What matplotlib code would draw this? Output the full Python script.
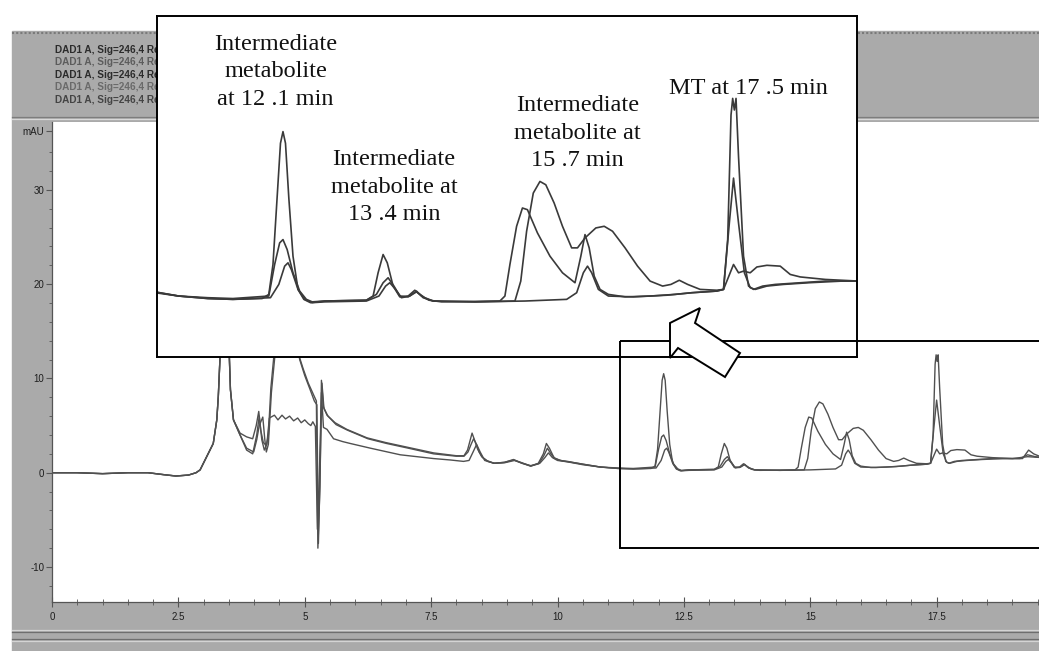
import matplotlib.pyplot as plt
from matplotlib import patches
import numpy as np

plt.rcParams['font.family'] = ['Liberation Sans', 'DejaVu Sans']

FIG_W, FIG_H = 1039, 651  # 出力サイズ (px)

# --- 溶媒フロント (全トレース共通) : (min, mAU) ---
FRONT = [(0.0, 0.0), (0.5, 0.0), (1.0, -0.1), (1.5, 0.0), (1.9, 0.0), (2.2, -0.2),
         (2.45, -0.35), (2.7, -0.25), (2.85, 0.0), (2.93, 0.3), (3.06, 1.7), (3.19, 3.1),
         (3.26, 5.6), (3.29, 8.1), (3.33, 13.0), (3.38, 24.0), (3.42, 30.0), (3.47, 24.0),
         (3.51, 12.0), (3.53, 8.8), (3.59, 5.6)]

TRACE_A = [(3.72, 4.2), (3.85, 3.8), (3.97, 3.6), (4.04, 5.0), (4.09, 6.5), (4.13, 4.5),
           (4.18, 3.2), (4.24, 2.9), (4.28, 4.0), (4.33, 9.0), (4.40, 13.0), (4.50, 17.0),
           (4.65, 19.0), (4.80, 15.0), (4.88, 12.5), (4.97, 11.0), (5.07, 9.5), (5.17, 8.3),
           (5.23, 7.6), (5.26, -8.0), (5.30, -1.5), (5.33, 9.8), (5.37, 7.0), (5.44, 6.1),
           (5.60, 5.3), (5.83, 4.6), (6.23, 3.7), (6.60, 3.2), (7.03, 2.7), (7.55, 2.1),
           (8.00, 1.8), (8.15, 1.8), (8.22, 2.4), (8.27, 3.4), (8.31, 4.2), (8.35, 3.6),
           (8.42, 2.5), (8.50, 1.7), (8.60, 1.3), (8.74, 1.0), (8.95, 1.1), (9.13, 1.35),
           (9.30, 1.05), (9.47, 0.7), (9.62, 1.0), (9.72, 2.0), (9.78, 3.1), (9.84, 2.6),
           (9.93, 1.6), (10.05, 1.3), (10.20, 1.2), (10.50, 0.9), (10.85, 0.6), (11.20, 0.45),
           (11.50, 0.4), (11.85, 0.45), (11.93, 0.7), (11.98, 2.5), (12.03, 6.5), (12.07, 9.8),
           (12.10, 10.5), (12.13, 9.8), (12.17, 6.5), (12.22, 3.0), (12.28, 1.0), (12.35, 0.4),
           (12.43, 0.2), (12.60, 0.3), (13.10, 0.35), (13.18, 0.6), (13.24, 2.0), (13.30, 3.1),
           (13.35, 2.6), (13.42, 1.2), (13.50, 0.55), (13.60, 0.6), (13.68, 0.95), (13.76, 0.6),
           (13.85, 0.35), (14.00, 0.25), (14.40, 0.28), (14.70, 0.3), (14.76, 0.6), (14.82, 2.5),
           (14.90, 4.8), (14.97, 5.9), (15.03, 5.8), (15.15, 4.4), (15.30, 3.0), (15.45, 2.0),
           (15.60, 1.4), (15.67, 3.0), (15.72, 4.3), (15.77, 3.5), (15.83, 1.8), (15.90, 1.0),
           (16.00, 0.7), (16.20, 0.55), (16.50, 0.6), (16.80, 0.7), (17.00, 0.8), (17.30, 0.9),
           (17.38, 1.0), (17.43, 4.0), (17.47, 11.5), (17.49, 12.5), (17.51, 11.8), (17.53, 12.5),
           (17.56, 9.0), (17.62, 3.0), (17.68, 1.2), (17.74, 1.0), (17.85, 1.2), (18.00, 1.3),
           (18.30, 1.4), (18.60, 1.5), (19.00, 1.5), (19.15, 1.5), (19.30, 1.9), (19.45, 1.7),
           (19.60, 1.6), (20.0, 1.6)]

TRACE_B = [(3.72, 4.0), (3.85, 2.6), (3.99, 2.2), (4.05, 3.5), (4.10, 5.0), (4.17, 5.9),
           (4.21, 3.5), (4.24, 2.2), (4.28, 3.0), (4.34, 8.5), (4.42, 13.0), (4.55, 17.5),
           (4.70, 18.0), (4.82, 14.5), (4.90, 12.0), (5.00, 10.3), (5.10, 8.9), (5.19, 7.6),
           (5.24, 7.2), (5.27, -7.5), (5.30, -1.0), (5.34, 9.5), (5.38, 6.8), (5.46, 6.0),
           (5.62, 5.1), (5.85, 4.5), (6.25, 3.6), (6.62, 3.1), (7.05, 2.6), (7.55, 2.0),
           (8.00, 1.75), (8.15, 1.75), (8.23, 2.2), (8.29, 3.0), (8.34, 3.6), (8.39, 3.1),
           (8.45, 2.2), (8.52, 1.6), (8.62, 1.2), (8.76, 1.0), (8.95, 1.05), (9.15, 1.3),
           (9.30, 1.0), (9.47, 0.7), (9.63, 0.95), (9.73, 1.8), (9.80, 2.6), (9.87, 2.0),
           (9.95, 1.5), (10.10, 1.25), (10.40, 1.0), (10.85, 0.6), (11.20, 0.5), (11.50, 0.45),
           (11.93, 0.6), (12.00, 2.5), (12.06, 3.8), (12.10, 4.0), (12.15, 3.4), (12.22, 2.0),
           (12.30, 0.9), (12.38, 0.4), (12.45, 0.25), (12.60, 0.3), (13.10, 0.35), (13.22, 0.7),
           (13.30, 1.4), (13.36, 1.7), (13.43, 1.2), (13.50, 0.6), (13.60, 0.55), (13.70, 0.85),
           (13.80, 0.5), (13.90, 0.3), (14.40, 0.25), (14.88, 0.3), (14.95, 1.5), (15.02, 4.5),
           (15.10, 6.8), (15.18, 7.5), (15.25, 7.3), (15.35, 6.2), (15.45, 4.8), (15.56, 3.5),
           (15.63, 3.5), (15.72, 4.1), (15.85, 4.7), (15.95, 4.8), (16.05, 4.5), (16.20, 3.5),
           (16.35, 2.4), (16.50, 1.5), (16.65, 1.2), (16.75, 1.3), (16.85, 1.55), (16.95, 1.3),
           (17.10, 1.0), (17.30, 0.95), (17.38, 1.0), (17.45, 5.0), (17.50, 7.7), (17.56, 5.0),
           (17.63, 2.0), (17.70, 1.1), (17.76, 1.0), (17.90, 1.2), (18.10, 1.3), (18.40, 1.4),
           (18.80, 1.5), (19.20, 1.5), (19.32, 2.4), (19.42, 2.0), (19.60, 1.6), (20.0, 1.6)]

TRACE_C = [(3.72, 4.0), (3.85, 2.4), (3.97, 2.0), (4.05, 4.0), (4.10, 6.0), (4.15, 3.5),
           (4.20, 2.4), (4.25, 3.0), (4.30, 5.8), (4.40, 6.1), (4.47, 5.6), (4.55, 6.1),
           (4.62, 5.7), (4.70, 6.0), (4.78, 5.5), (4.86, 5.8), (4.93, 5.3), (5.00, 5.6),
           (5.07, 5.2), (5.12, 5.0), (5.16, 5.4), (5.21, 4.9), (5.25, -6.0), (5.29, 0.0),
           (5.33, 8.5), (5.37, 4.8), (5.44, 4.6), (5.57, 3.6), (5.75, 3.3), (5.90, 3.1),
           (6.30, 2.6), (6.89, 1.9), (7.55, 1.5), (7.88, 1.35), (8.14, 1.2), (8.25, 1.3),
           (8.33, 2.2), (8.40, 3.0), (8.47, 2.2), (8.56, 1.3), (8.74, 1.0), (8.95, 1.1),
           (9.13, 1.4), (9.30, 1.0), (9.47, 0.75), (9.65, 1.0), (9.75, 1.6), (9.82, 2.1),
           (9.90, 1.6), (10.00, 1.3), (10.20, 1.15), (10.50, 0.85), (10.85, 0.6), (11.20, 0.45),
           (11.50, 0.4), (11.95, 0.5), (12.05, 1.3), (12.12, 2.4), (12.16, 2.6), (12.20, 2.2),
           (12.28, 1.0), (12.36, 0.4), (12.45, 0.2), (12.60, 0.25), (13.10, 0.3), (13.25, 0.6),
           (13.33, 1.2), (13.38, 1.4), (13.45, 1.0), (13.52, 0.5), (13.62, 0.6), (13.70, 0.9),
           (13.78, 0.5), (13.90, 0.3), (14.40, 0.25), (15.00, 0.3), (15.50, 0.4), (15.62, 0.8),
           (15.70, 2.0), (15.75, 2.4), (15.80, 2.0), (15.88, 1.0), (16.00, 0.6), (16.30, 0.55),
           (16.70, 0.65), (17.00, 0.8), (17.30, 0.9), (17.38, 1.0), (17.46, 2.0), (17.50, 2.5),
           (17.56, 2.0), (17.62, 2.1), (17.70, 2.0), (17.78, 2.35), (17.90, 2.45), (18.06, 2.4),
           (18.18, 1.9), (18.30, 1.75), (18.60, 1.6), (19.00, 1.5), (19.30, 1.7), (19.60, 1.6),
           (20.0, 1.6)]

X_TICKS = [0, 2.5, 5, 7.5, 10, 12.5, 15, 17.5, 20]
X_LABELS = ['0', '2.5', '5', '7.5', '10', '12.5', '15', '17.5', '20']
Y_TICKS = [-10, 0, 10, 20, 30]
Y_LABELS = ['-10', '0', '10', '20', '30']
Y_UNIT = 'mAU'

LEGEND_LINES = ['DAD1 A, Sig=246,4 Ref=off'] * 5
LEGEND_COLORS = ['#2b2b2b', '#5c5c5c', '#2b2b2b', '#6a6a6a', '#444444']

ANNOTATIONS = ['Intermediate\nmetabolite\nat 12 .1 min',
               'Intermediate\nmetabolite at\n13 .4 min',
               'Intermediate\nmetabolite at\n15 .7 min',
               'MT at 17 .5 min']

# 白抜き矢印の輪郭 (px)
ARROW_OUTLINE = [(670, 323), (700, 308), (695, 323), (740, 353), (725, 377),
                 (678, 348), (670, 358)]


def px_rect(x0, y0, x1, y1):
    """ピクセル座標 -> figure 座標"""
    return [x0 / FIG_W, 1 - y1 / FIG_H, (x1 - x0) / FIG_W, (y1 - y0) / FIG_H]


def trace(points):
    t, v = np.array(FRONT + points).T
    return t, v


def draw():
    fig = plt.figure(figsize=(FIG_W / 100, FIG_H / 100), dpi=100, facecolor='white')

    # --- ウィンドウ背景 ---
    bg = fig.add_axes([0, 0, 1, 1], zorder=0)
    bg.set_xlim(0, FIG_W)
    bg.set_ylim(FIG_H, 0)
    bg.axis('off')
    bg.add_patch(patches.Rectangle((12, 31), FIG_W, FIG_H, color='#aaaaaa'))
    bg.plot([12, FIG_W], [32.5, 32.5], color='#7a7a7a', lw=1.5, ls=(0, (1, 1)))
    bg.plot([12, FIG_W], [116.5, 116.5], color='#7d7d7d', lw=0.9)
    bg.plot([12, FIG_W], [119, 119], color='#d9d9d9', lw=0.9)
    for y, c in ((629.5, '#d4d4d4'), (631.5, '#6e6e6e'), (639, '#6e6e6e'), (641, '#d4d4d4')):
        bg.plot([12, FIG_W], [y, y], color=c, lw=0.9)
    for i, (txt, c) in enumerate(zip(LEGEND_LINES, LEGEND_COLORS)):
        bg.text(55, 50 + i * 12.4, txt, fontsize=7.2, fontweight='bold', color=c, va='center')

    # --- メインのクロマトグラム ---
    ax = fig.add_axes(px_rect(52, 122, 52 + 20 * 50.55, 602), zorder=1)
    ax.set_facecolor('white')
    for pts in (TRACE_C, TRACE_B, TRACE_A):
        t, v = trace(pts)
        ax.plot(t, v, color='#505050', lw=1.0)
    ax.set_xlim(0, 20)
    ax.set_ylim(-13.71, 37.19)
    ax.set_xticks(X_TICKS, X_LABELS)
    ax.set_xticks(np.arange(0, 20.01, 0.5), minor=True)
    ax.set_yticks(Y_TICKS + [36.2], Y_LABELS + [Y_UNIT])
    ax.set_yticks(np.arange(-12, 36, 2), minor=True)
    ax.tick_params(axis='x', which='both', direction='inout', colors='#555555',
                   labelcolor='#1e1e1e', labelsize=7, pad=4)
    ax.tick_params(axis='x', which='major', length=7, width=0.8)
    ax.tick_params(axis='x', which='minor', length=4, width=0.6)
    ax.tick_params(axis='y', which='both', direction='out', colors='#555555',
                   labelcolor='#1e1e1e', labelsize=7, pad=1.5)
    ax.tick_params(axis='y', which='major', length=4, width=0.8)
    ax.tick_params(axis='y', which='minor', length=2, width=0.6)
    for s in ('top', 'right'):
        ax.spines[s].set_visible(False)
    for s in ('left', 'bottom'):
        ax.spines[s].set_color('#555555')
        ax.spines[s].set_linewidth(0.9)

    # --- 拡大図 ---
    ins = fig.add_axes(px_rect(157, 16, 857, 357), zorder=5)
    ins.set_facecolor('white')
    for pts in (TRACE_C, TRACE_B, TRACE_A):
        t, v = trace(pts)
        ins.plot(t, v, color='#3a3a3a', lw=1.2)
    ins.set_xlim(10.59, 18.98)
    ins.set_ylim(-3.07, 17.46)
    ins.set_xticks([])
    ins.set_yticks([])
    for s in ins.spines.values():
        s.set_color('black')
        s.set_linewidth(1.4)
    label_pos = [(12.01, 14.1), (13.43, 7.15), (15.63, 10.4), (17.68, 13.1)]
    for txt, (x, y) in zip(ANNOTATIONS, label_pos):
        ins.text(x, y, txt, ha='center', va='center', family='Liberation Serif',
                 fontsize=17.5, linespacing=1.4, color='#111111')

    # --- 枠と矢印 ---
    fg = fig.add_axes([0, 0, 1, 1], zorder=10)
    fg.set_xlim(0, FIG_W)
    fg.set_ylim(FIG_H, 0)
    fg.axis('off')
    fg.add_patch(patches.Rectangle((620, 341), 500, 207, fill=False, ec='black', lw=1.4))
    fg.add_patch(patches.Polygon(ARROW_OUTLINE, closed=True, fc='white', ec='black', lw=1.4))

    fig.savefig('out.png', dpi=100)


if __name__ == "__main__":
    draw()
